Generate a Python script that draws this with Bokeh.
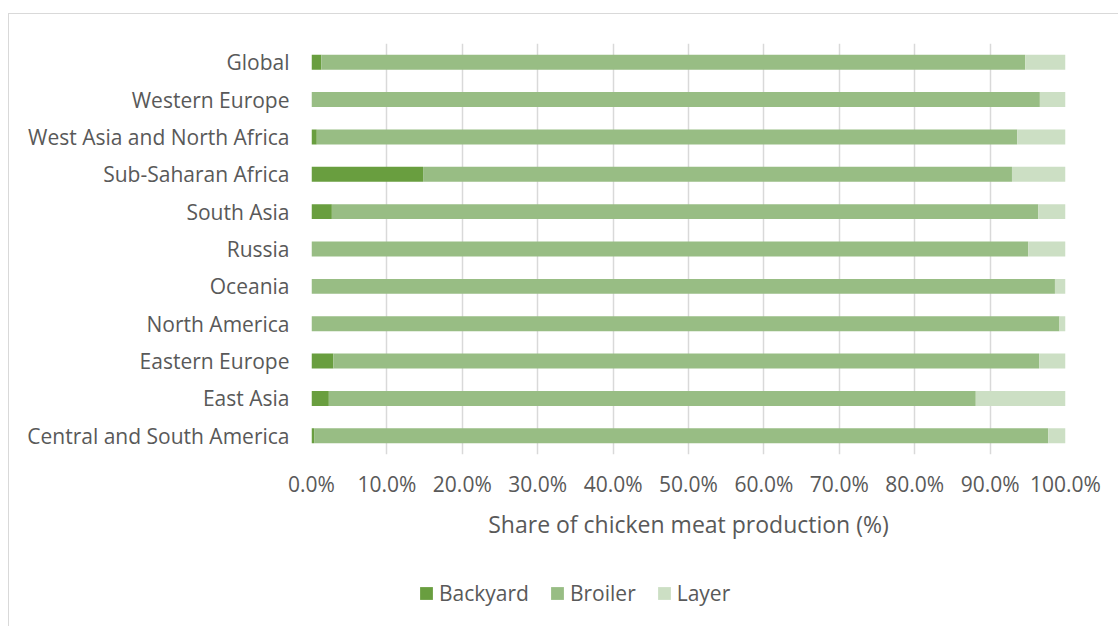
from bokeh.plotting import figure
from bokeh.layouts import column
from bokeh.models import FactorRange, PrintfTickFormatter, Legend, LegendItem, FixedTicker
from bokeh.embed import file_html
from bokeh.resources import INLINE

regions = ["Global", "Western Europe", "West Asia and North Africa", "Sub-Saharan Africa",
           "South Asia", "Russia", "Oceania", "North America", "Eastern Europe",
           "East Asia", "Central and South America"]
backyard = [1.3, 0.0, 0.7, 14.8, 2.7, 0.0, 0.0, 0.0, 2.9, 2.3, 0.35]
broiler = [93.35, 96.6, 92.9, 78.1, 93.7, 95.05, 98.6, 99.2, 93.6, 85.8, 97.35]
layer = [round(100 - a - b, 2) for a, b in zip(backyard, broiler)]
series = ["Backyard", "Broiler", "Layer"]
colors = ["#699E3F", "#98BD84", "#CCDFC4"]
x_ticks = [0, 10, 20, 30, 40, 50, 60, 70, 80, 90, 100]

FONT = "Open Sans"
TXT = "#595959"

data = {"region": regions, "Backyard": backyard, "Broiler": broiler, "Layer": layer}

p = figure(width=1110, height=560, output_backend="svg", toolbar_location=None,
           y_range=FactorRange(factors=list(reversed(regions)), range_padding=0),
           x_range=(0, 100), min_border_left=302, min_border_right=54,
           min_border_top=29, min_border_bottom=120)

renderers = p.hbar_stack(series, y="region", height=0.4, color=colors, source=data,
                         line_color=None)

p.outline_line_color = None
p.ygrid.grid_line_color = None
p.xgrid.grid_line_color = "#d9d9d9"
p.xgrid.grid_line_width = 1.5
p.xgrid.ticker = FixedTicker(ticks=x_ticks)

p.xaxis.ticker = FixedTicker(ticks=x_ticks)
p.xaxis.formatter = PrintfTickFormatter(format="%.1f%%")
p.xaxis.axis_line_color = None
p.xaxis.major_tick_line_color = None
p.xaxis.minor_tick_line_color = None
p.xaxis.major_label_standoff = 9
p.xaxis.axis_label = "Share of chicken meat production (%)"
p.xaxis.axis_label_standoff = 7
p.xaxis.axis_label_text_font_style = "normal"

p.yaxis.axis_line_color = None
p.yaxis.major_tick_line_color = None
p.yaxis.minor_tick_line_color = None
p.yaxis.major_label_standoff = 16

for ax in (p.xaxis, p.yaxis):
    ax.major_label_text_font = FONT
    ax.major_label_text_font_size = "21px"
    ax.major_label_text_color = TXT
    ax.axis_label_text_font = FONT
    ax.axis_label_text_font_size = "23px"
    ax.axis_label_text_color = TXT

# legend-only strip below the chart
p2 = figure(width=1110, height=53, output_backend="svg", toolbar_location=None,
            x_range=(0, 1), y_range=(0, 1), min_border=0,
            x_axis_location=None, y_axis_location=None)
p2.outline_line_color = None
p2.grid.grid_line_color = None
leg_renderers = [p2.quad(left=[5], right=[6], bottom=[5], top=[6], color=c, line_color=None)
                 for c in colors]
legend = Legend(items=[LegendItem(label=s, renderers=[r]) for s, r in zip(series, leg_renderers)],
                orientation="horizontal", location=(107, 20),
                label_text_font=FONT, label_text_font_size="21px", label_text_color=TXT,
                glyph_width=16, glyph_height=16, label_standoff=5, spacing=20,
                padding=0, margin=0, border_line_color=None, background_fill_alpha=0)
p2.add_layout(legend, "center")

layout = column(p, p2, spacing=0)
layout.margin = (13, 0, 0, 8)
layout.styles = {"border-top": "1px solid #d9d9d9", "border-left": "1px solid #d9d9d9"}

open("out.html", "w").write(file_html(layout, INLINE))
